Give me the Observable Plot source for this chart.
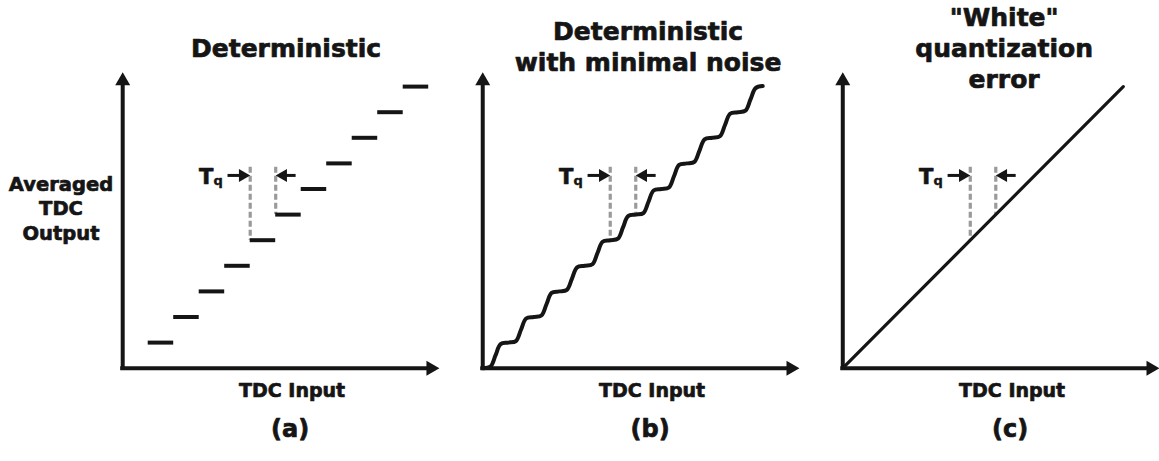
<!DOCTYPE html>
<html><head><meta charset="utf-8">
<script src="https://cdn.jsdelivr.net/npm/d3@7"></script>
<script src="https://cdn.jsdelivr.net/npm/@observablehq/plot@0.6"></script>
<style>body{margin:0;background:#fff;} svg{display:block}</style>
</head><body><div id="chart"></div>
<script>
// ---------- data ----------
const panels = ["a", "b", "c"];
const panelLabels = ["(a)", "(b)", "(c)"];
const panelTitles = ["Deterministic", "Deterministic\nwith minimal noise", "\"White\"\nquantization\nerror"];
const xAxisLabel = "TDC Input";
const yAxisLabel = "Averaged\nTDC\nOutput";
const quantLabel = "T";
const quantSub = "q";

// (a) staircase: each step from stepStart to stepEnd at stepLevel
const stepStart = [1, 2, 3, 4, 5, 6, 7, 8, 9, 10, 11];
const stepEnd   = [2, 3, 4, 5, 6, 7, 8, 9, 10, 11, 12];
const stepLevel = [1, 2, 3, 4, 5, 6, 7, 8, 9, 10, 11];

// (b) wavy transfer curve
const waveX = [0, 0.3, 0.5, 0.7, 1, 1.3, 1.5, 1.7, 2, 2.3, 2.5, 2.7, 3, 3.3, 3.5, 3.7, 4, 4.3, 4.5, 4.7, 5, 5.3, 5.5, 5.7,
               6, 6.3, 6.5, 6.7, 7, 7.3, 7.5, 7.7, 8, 8.3, 8.5, 8.7, 9, 9.3, 9.5, 9.7, 10, 10.3, 10.5, 10.7, 10.98];
const waveY = [0, 0.06, 0.5, 0.94, 1, 1.06, 1.5, 1.94, 2, 2.06, 2.5, 2.94, 3, 3.06, 3.5, 3.94, 4, 4.06, 4.5, 4.94, 5, 5.06, 5.5, 5.94,
               6, 6.06, 6.5, 6.94, 7, 7.06, 7.5, 7.94, 8, 8.06, 8.5, 8.94, 9, 9.06, 9.5, 9.94, 10, 10.06, 10.5, 10.94, 11.02];

// (c) ideal line
const lineX = [0, 11];
const lineY = [0, 11];

// Tq annotation
const tqX = [5, 6];
const tqTop = 7.85;
const tqBottoms = [[5, 6], [5.0, 6.0], [5, 6]];
const tqArrowY = 7.53;
const tqArrowTail = [4.13, 6.8];
const tqTextX = 2.99;
const tqSubX = 3.56;

// axis extents
const xMax = 12.42;
const yMax = 11.5625;

// ---------- derived tables ----------
const stepsData = stepStart.map((s, i) => ({panel: "a", x1: s, x2: stepEnd[i], y: stepLevel[i]}));
const waveData = waveX.map((x, i) => ({panel: "b", x, y: waveY[i]}));
const lineData = lineX.map((x, i) => ({panel: "c", x, y: lineY[i]}));
const dashData = panels.flatMap((p, j) => tqX.map((x, i) => ({panel: p, x, y1: tqTop, y2: tqBottoms[j][i]})));
const shaftData = [
  {from: tqArrowTail[0], to: tqX[0] - 0.15},
  {from: tqArrowTail[1], to: tqX[1] + 0.15}
];
const perPanel = (arr) => panels.map((p, i) => ({panel: p, t: arr[i]}));

const ink = "#151515";
const textStyle = {fill: ink, stroke: ink, strokeWidth: 0.7, fontWeight: "bold", textAnchor: "middle", lineAnchor: "bottom"};

const chart = Plot.plot({
  width: 1159,
  height: 461,
  marginLeft: 122.2,
  marginRight: 0,
  marginTop: 71.7,
  marginBottom: 93.3,
  x: {domain: [0, xMax], axis: null},
  y: {domain: [0, yMax], axis: null},
  fx: {domain: panels, axis: null, paddingInner: 0.1203, paddingOuter: 0, round: false},
  style: {fontFamily: "'DejaVu Sans', sans-serif", background: "white", overflow: "visible"},
  marks: [
    // dashed Tq guides
    Plot.ruleX(dashData, {fx: "panel", x: "x", y1: "y1", y2: "y2", stroke: "#9a9a9a", strokeWidth: 3.2, strokeDasharray: "6,3"}),
    // axes
    Plot.ruleX([0], {y1: 0, y2: yMax - 0.3, stroke: ink, strokeWidth: 4, strokeLinecap: "square"}),
    Plot.ruleY([0], {x1: 0, x2: xMax - 0.3, stroke: ink, strokeWidth: 4, strokeLinecap: "square"}),
    Plot.dot([{x: 0, y: yMax}], {x: "x", y: "y", symbol: "triangle", r: 5.57, fill: ink, stroke: null, dy: 8.66}),
    Plot.dot([{x: xMax, y: 0}], {x: "x", y: "y", symbol: "triangle", r: 5.57, fill: ink, stroke: null, rotate: 90, dx: -8.66}),
    // (a) steps
    Plot.ruleY(stepsData, {fx: "panel", y: "y", x1: "x1", x2: "x2", stroke: ink, strokeWidth: 4}),
    // (b) wave
    Plot.line(waveData, {fx: "panel", x: "x", y: "y", curve: "catmull-rom", stroke: ink, strokeWidth: 4}),
    // (c) line
    Plot.line(lineData, {fx: "panel", x: "x", y: "y", stroke: ink, strokeWidth: 3.2}),
    // Tq arrows
    Plot.ruleY(shaftData, {y: () => tqArrowY, x1: "from", x2: "to", stroke: ink, strokeWidth: 3}),
    Plot.dot([tqX[0]], {x: d => d, y: () => tqArrowY, symbol: "triangle", r: 4.83, fill: ink, stroke: null, rotate: 90, dx: -7.5}),
    Plot.dot([tqX[1]], {x: d => d, y: () => tqArrowY, symbol: "triangle", r: 4.83, fill: ink, stroke: null, rotate: -90, dx: 7.5}),
    Plot.text([quantLabel], {x: () => tqTextX, y: () => tqArrowY, text: d => d, fontSize: 21, dy: 8.3, ...textStyle, textAnchor: "start"}),
    Plot.text([quantSub], {x: () => tqSubX, y: () => tqArrowY, text: d => d, fontSize: 13, dy: 10, ...textStyle, strokeWidth: 0.4, textAnchor: "start"}),
    // titles
    Plot.text(perPanel(panelTitles).slice(0, 1), {fx: "panel", text: "t", frameAnchor: "top", dx: 5, dy: -15, fontSize: 25, lineHeight: 1.24, ...textStyle}),
    Plot.text(perPanel(panelTitles).slice(1, 2), {fx: "panel", text: "t", frameAnchor: "top", dx: 7, dy: -1.7, fontSize: 25, lineHeight: 1.24, ...textStyle}),
    Plot.text(perPanel(panelTitles).slice(2, 3), {fx: "panel", text: "t", frameAnchor: "top", dx: 3, dy: 15.6, fontSize: 25, lineHeight: 1.23, ...textStyle}),
    // x-axis labels and panel letters
    Plot.text(perPanel(panels.map(() => xAxisLabel)), {fx: "panel", text: "t", frameAnchor: "bottom", dx: 11, dy: 29, fontSize: 19, ...textStyle}),
    Plot.text(perPanel(panelLabels), {fx: "panel", text: "t", frameAnchor: "bottom", dx: 9, dy: 69, fontSize: 24, ...textStyle}),
    // y-axis label (panel a only)
    Plot.text(perPanel([yAxisLabel]).slice(0, 1), {fx: "panel", text: "t", frameAnchor: "left", dx: -61.7, dy: 19.3, fontSize: 19.5, lineHeight: 1.25, ...textStyle})
  ]
});
document.getElementById("chart").appendChild(chart);
</script>
</body></html>
